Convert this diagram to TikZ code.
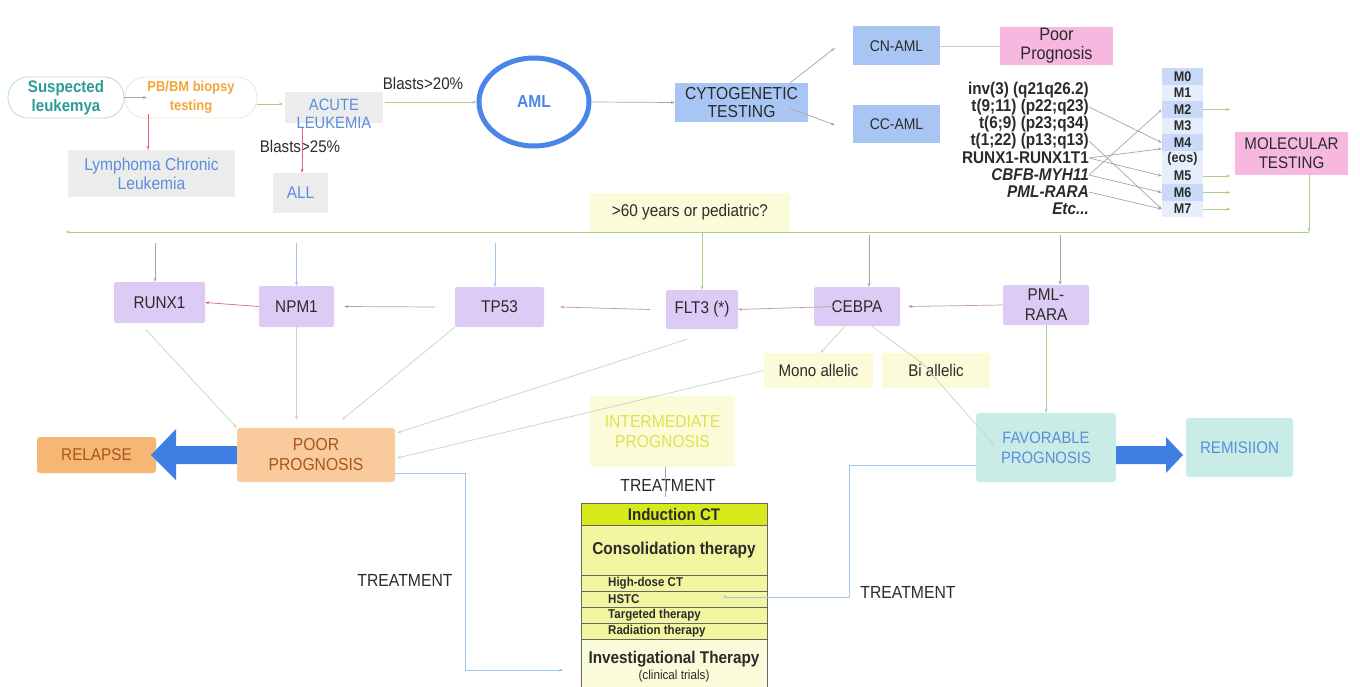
\documentclass[tikz,border=0pt]{standalone}
\usepackage{fontspec}
\setmainfont{Liberation Sans}[FakeStretch=0.9]
\usetikzlibrary{arrows.meta,calc,shapes.geometric}
\definecolor{txtdark}{HTML}{2B2B2B}
\definecolor{teal}{HTML}{2A9D95}
\definecolor{orng}{HTML}{F2A63A}
\definecolor{bluetxt}{HTML}{5A8EDB}
\definecolor{graybox}{HTML}{ECECEC}
\definecolor{amlblue}{HTML}{4A86E8}
\definecolor{cytoblue}{HTML}{A9C5F4}
\definecolor{pinkbox}{HTML}{F6B8DF}
\definecolor{mdark}{HTML}{C9DAF8}
\definecolor{mlight}{HTML}{E6EEFB}
\definecolor{purp}{HTML}{DCCBF4}
\definecolor{paley}{HTML}{FBFBD9}
\definecolor{intertxt}{HTML}{DDE34E}
\definecolor{poorfill}{HTML}{F9CB9C}
\definecolor{relfill}{HTML}{F6B774}
\definecolor{browntxt}{HTML}{A8561C}
\definecolor{favfill}{HTML}{C9EDE6}
\definecolor{indfill}{HTML}{D8E91C}
\definecolor{consfill}{HTML}{F3F6A0}
\definecolor{invfill}{HTML}{FAFBD8}
\definecolor{lgreen}{HTML}{A9D08E}
\definecolor{pgreen}{HTML}{C6D9B2}
\definecolor{lgray}{HTML}{A6A6A6}
\definecolor{lblue}{HTML}{9FC5E8}
\definecolor{lred}{HTML}{E06672}
\definecolor{rgray}{HTML}{C49A9A}
\definecolor{bluarrow}{HTML}{3F7EE3}
\newcommand{\fsz}[2]{\fontsize{#1}{#2}\selectfont}
\begin{document}
\begin{tikzpicture}[x=1pt,y=-1pt,
  box/.style={rectangle, inner sep=1pt, align=center, text=txtdark, font={\fsz{17}{19}}},
  purpbox/.style={box, fill=purp, rounded corners=2pt},
  pill/.style={rectangle, rounded corners=20pt, inner sep=1pt, align=center, line width=0.8pt},
  tip/.style={-{Stealth[length=4pt,width=3pt]}, line width=0.7pt},
  listtxt/.style={anchor=east, inner sep=0pt, text=txtdark, font={\bfseries\fsz{17}{19}}},
  mrow/.style={rectangle, minimum width=41, minimum height=16.6, inner sep=0pt, text=txtdark, font={\bfseries\fsz{14}{16}}},
  trow/.style={rectangle, draw=gray!80!black, line width=0.6pt, minimum width=186, inner sep=0pt, text=txtdark},
  small/.style={inner sep=0pt, anchor=west, text=txtdark, font={\bfseries\fsz{12.8}{14}}},
  lbl/.style={inner sep=0pt, text=txtdark, font={\fsz{16.8}{19}}}
]
\useasboundingbox (0,0) rectangle (1360,687);
\fill[white] (0,0) rectangle (1360,687);

% ---------- top row ----------
\node[pill, draw=teal!35, minimum width=116, minimum height=41, text=teal, font={\bfseries\fsz{16.7}{19}}] (susp) at (66,97.5) {Suspected\\leukemya};
\node[pill, draw=orng!30, minimum width=132, minimum height=41, text=orng, font={\bfseries\fsz{14.4}{19}}] (pbbm) at (191,97.5) {PB/BM biopsy\\testing};
\node[box, fill=graybox, minimum width=167, minimum height=47, text=bluetxt, font={\fsz{17.3}{19}}] (lymph) at (151.5,173.5) {Lymphoma Chronic\\Leukemia};
\fill[graybox] (285,92) rectangle (383,123);
\node[box, text=bluetxt, font={\fsz{16.4}{18}}] (acute) at (334,114) {ACUTE\\LEUKEMIA};
\node[lbl] (b25) at (300,146) {Blasts>25\%};
\node[box, fill=graybox, minimum width=55, minimum height=40, text=bluetxt] (all) at (300.5,193) {ALL};
\node[lbl] (b20) at (423,83) {Blasts>20\%};
\node[ellipse, draw=amlblue, line width=5pt, minimum width=110, minimum height=88, text=amlblue, font={\bfseries\fsz{17.3}{20}}] (aml) at (534,102) {AML};
\node[box, fill=cytoblue, minimum width=133, minimum height=39, font={\fsz{17.4}{18}}] (cyto) at (741.5,102.5) {CYTOGENETIC\\TESTING};
\node[box, fill=cytoblue, minimum width=87, minimum height=39, font={\fsz{15.5}{18}}] (cnaml) at (896.5,46) {CN-AML};
\node[box, fill=cytoblue, minimum width=87, minimum height=38, font={\fsz{15.5}{18}}] (ccaml) at (896.5,124) {CC-AML};
\node[box, fill=pinkbox, minimum width=113, minimum height=38, font={\fsz{18}{19}}] (poor1) at (1056.5,46) {Poor\\Prognosis};

\draw[tip, lgray] (susp.east) -- (147,97.5);
\draw[tip, lred] (148,114) -- (lymph.north -| 148,0);
\draw[tip, lgreen] (pbbm.east |- 0,104) -- (283,104);
\draw[tip, lred] (302,128) -- (all.north -| 302,0);
\draw[tip, lgreen] (385,102) -- (aml.west);
\draw[tip, lgray] (aml.east) -- (cyto.west);
\draw[tip, lgray] ($(cyto.north east)+(-18,0)$) -- ($(cnaml.west)+(-18,2)$);
\draw[tip, lgray] ($(cyto.east)+(-18,6)$) -- ($(ccaml.west)+(-18,1)$);
\draw[lgray!60, line width=0.7pt] (cnaml.east) -- (poor1.west);

% cytogenetic list
\node[listtxt] (c1) at (1089,90) {inv(3) (q21q26.2)};
\node[listtxt] (c2) at (1089,107) {t(9;11) (p22;q23)};
\node[listtxt] (c3) at (1089,124) {t(6;9) (p23;q34)};
\node[listtxt] (c4) at (1089,141) {t(1;22) (p13;q13)};
\node[listtxt] (c5) at (1089,158) {RUNX1-RUNX1T1};
\node[listtxt] (c6) at (1089,175) {\itshape CBFB-MYH11};
\node[listtxt] (c7) at (1089,192) {\itshape PML-RARA};
\node[listtxt] (c8) at (1089,209) {\itshape Etc...};

% FAB column
\node[mrow, fill=mdark] (m0) at (1182.5,76.3) {M0};
\node[mrow, fill=mlight] (m1) at (1182.5,92.9) {M1};
\node[mrow, fill=mdark] (m2) at (1182.5,109.5) {M2};
\node[mrow, fill=mlight] (m3) at (1182.5,126.1) {M3};
\node[mrow, fill=mdark] (m4) at (1182.5,142.7) {M4};
\node[mrow, fill=mlight] (meos) at (1182.5,159.3) {(eos)};
\node[mrow, fill=mlight] (m5) at (1182.5,175.9) {M5};
\node[mrow, fill=mdark] (m6) at (1182.5,192.5) {M6};
\node[mrow, fill=mlight] (m7) at (1182.5,209.1) {M7};

\draw[tip, lgray] (c2.east) -- (m4.west);
\draw[tip, lgray] (c4.east) -- (m7.west);
\draw[tip, lgray] (c5.east) -- ($(m4.west)+(0,6)$);
\draw[tip, lgray] (c5.east) -- (m5.west);
\draw[tip, lgray] (c6.east) -- (m2.west);
\draw[tip, lgray] (c6.east) -- (m6.west);
\draw[tip, lgray] (c7.east) -- (m7.west);
\foreach \m in {m2,m5,m6,m7} \draw[tip, lgreen] (\m.east) -- ++(27,0);

\node[box, fill=pinkbox, minimum width=113, minimum height=43, font={\fsz{16.8}{19}}] (moltest) at (1291.5,153.5) {MOLECULAR\\TESTING};

% ---------- horizontal bus ----------
\coordinate (hr) at (1309,232);
\coordinate (hl) at (66,232);
\draw[tip, lgreen] (moltest.south -| hr) -- (hr);
\draw[tip, lgreen] (hr) -- (hl);
\node[box, fill=paley, minimum width=200, minimum height=39] (age) at (690,212.5) {>60 years or pediatric?};

% mutation boxes
\node[purpbox, minimum width=91, minimum height=41] (runx1) at (159.5,302.5) {RUNX1};
\node[purpbox, minimum width=75, minimum height=41] (npm1) at (296.5,306.5) {NPM1};
\node[purpbox, minimum width=89, minimum height=40] (tp53) at (499.5,307) {TP53};
\node[purpbox, minimum width=72, minimum height=39] (flt3) at (702,309.5) {FLT3 (*)};
\node[purpbox, minimum width=86, minimum height=39] (cebpa) at (857,306.5) {CEBPA};
\node[purpbox, minimum width=86, minimum height=40, font={\fsz{17}{20}}] (pml) at (1046,305) {PML-\\RARA};

\draw[tip, lgray] (155,243) -- (runx1.north -| 155,0);
\draw[tip, lblue] (npm1.north |- 0,243) -- (npm1.north);
\draw[tip, lblue] (495,243) -- (tp53.north -| 495,0);
\draw[tip, lgreen] (age.south -| flt3.north) -- (flt3.north);
\draw[tip, lgray] (869,235) -- (cebpa.north -| 869,0);
\draw[tip, lgray] (1060,235) -- (pml.north -| 1060,0);

\draw[tip, lred] (npm1.west) -- (runx1.east);
\draw[tip, lgray] ($(tp53.west)+(-20,0)$) -- ($(npm1.east)+(10,0)$);
\draw[tip, rgray] ($(flt3.west)+(-16,0)$) -- ($(tp53.east)+(16,0)$);
\draw[tip, rgray] ($(cebpa.west)+(20,0)$) -- (flt3.east);
\draw[tip, rgray] (pml.west) -- ($(cebpa.east)+(8,0)$);

% allelic boxes
\node[box, fill=paley, minimum width=109, minimum height=35, font={\fsz{16.8}{19}}] (mono) at (818.5,370.5) {Mono allelic};
\node[box, fill=paley, minimum width=108, minimum height=35, font={\fsz{16.8}{19}}] (bi) at (936,370.5) {Bi allelic};

% prognosis boxes
\node[box, fill=poorfill, rounded corners=3pt, minimum width=158, minimum height=54, text=browntxt, font={\fsz{17.4}{20}}] (poor) at (316,455) {POOR\\PROGNOSIS};
\node[box, fill=relfill, rounded corners=3pt, minimum width=119, minimum height=36, text=browntxt] (relapse) at (96.5,455) {RELAPSE};
\node[box, fill=paley, rounded corners=3pt, minimum width=145, minimum height=71, text=intertxt, font={\fsz{17.4}{20}}] (inter) at (662.5,431.5) {INTERMEDIATE\\PROGNOSIS};
\node[box, fill=favfill, rounded corners=3pt, minimum width=140, minimum height=69, text=bluetxt, font={\fsz{16.5}{20}}] (fav) at (1046,447.5) {FAVORABLE\\PROGNOSIS};
\node[box, fill=favfill, rounded corners=3pt, minimum width=107, minimum height=59, text=bluetxt, font={\fsz{16.8}{20}}] (remis) at (1239.5,447.5) {REMISIION};

% big arrows
\fill[bluarrow] (poor.west |- 0,446) -- (176,446) -- (176,429) -- (151,455) -- (176,480) -- (176,464) -- (poor.west |- 0,464) -- cycle;
\fill[bluarrow] (fav.east |- 0,446) -- (1166,446) -- (1166,437) -- (1183,455) -- (1166,473) -- (1166,464) -- (fav.east |- 0,464) -- cycle;

% lines into prognoses
\draw[tip, pgreen] ($(runx1.south)+(-14,6)$) -- (poor.north west);
\draw[tip, pgreen] (npm1.south) -- ($(poor.north -| npm1.south)+(0,-8)$);
\draw[tip, pgreen] (tp53.south west) -- ($(poor.north)+(26,-8)$);
\draw[tip, pgreen] ($(flt3.south)+(-15,10)$) -- ($(poor.north east)+(2,5)$);
\draw[tip, pgreen] (mono.west) -- ($(poor.east)+(2,3)$);
\draw[tip, pgreen] ($(cebpa.south)+(-12,0)$) -- ($(mono.north)+(2,0)$);
\coordinate (bimid) at (923,364);
\draw[tip, pgreen] ($(cebpa.south)+(15,0)$) -- (bimid);
\draw[tip, pgreen] (bimid) -- ($(fav.north west)+(18,32)$);
\draw[tip, lgreen] (pml.south) -- (fav.north);

% treatment table
\node[trow, fill=indfill, minimum height=22, font={\bfseries\fsz{16.8}{18}}] (ind) at (674,514) {Induction CT};
\node[trow, fill=consfill, minimum height=50, font={\bfseries\fsz{17.2}{19}}] (cons) at (674,550) {Consolidation therapy};
\node[trow, fill=consfill, minimum height=16] (hd) at (674,583) {};
\node[trow, fill=consfill, minimum height=16] (hstc) at (674,599) {};
\node[trow, fill=consfill, minimum height=16] (targ) at (674,615) {};
\node[trow, fill=consfill, minimum height=16] (rad) at (674,631) {};
\node[small] (hdt) at (608,583) {High-dose CT};
\node[small] (hstct) at (608,599) {HSTC};
\node[small] (targt) at (608,615) {Targeted therapy};
\node[small] (radt) at (608,631) {Radiation therapy};
\node[trow, fill=invfill, minimum height=62, anchor=north] (inv) at (674,639) {};
\node[inner sep=0pt, text=txtdark, font={\bfseries\fsz{17}{19}}] (invt) at (674,659) {Investigational Therapy};
\node[inner sep=0pt, text=txtdark, font={\fsz{13}{15}}] (clin) at (674,676) {(clinical trials)};

\node[lbl, font={\fsz{17.5}{19}}] (trtop) at (668,485) {TREATMENT};
\node[lbl, font={\fsz{17.5}{19}}] (trleft) at (405,580) {TREATMENT};
\node[lbl, font={\fsz{17.5}{19}}] (trright) at (908,592) {TREATMENT};

\draw[lgray, line width=0.6pt] (inter.south -| 665,0) -- (665,497);
\draw[tip, lblue] (poor.east |- 0,473) -- (465,473) -- (465,670) -- (563,670);
\draw[tip, lblue] (fav.west |- 0,465) -- (849,465) -- (849,597) -- (723,597);
\end{tikzpicture}
\end{document}
